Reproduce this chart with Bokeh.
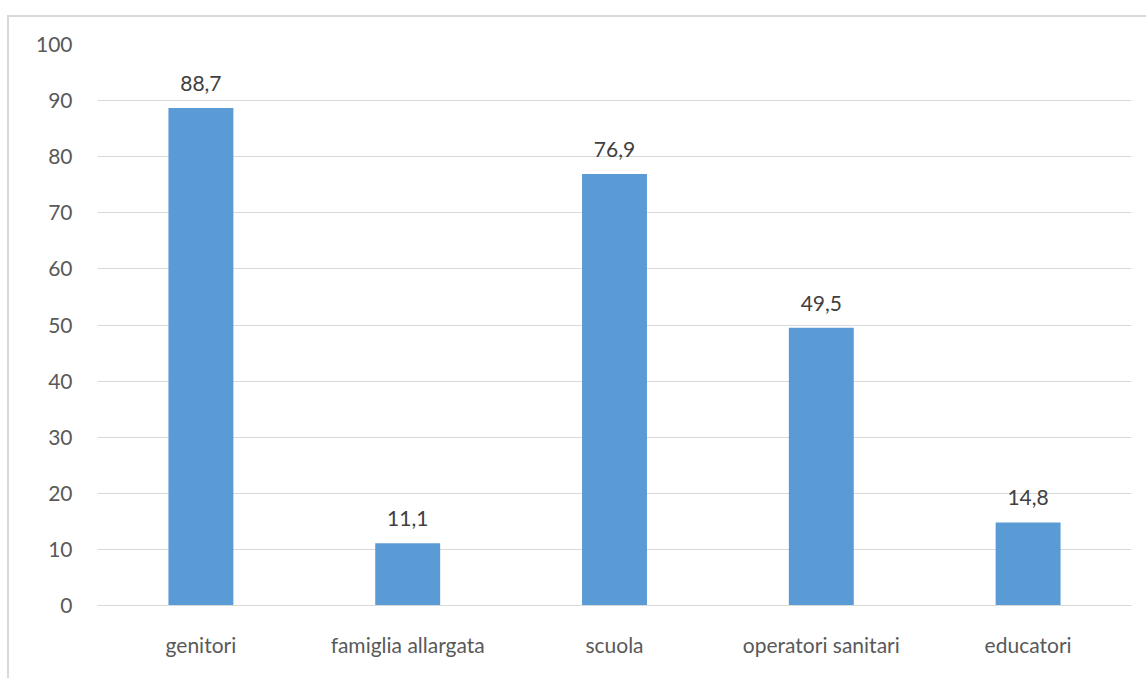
from bokeh.plotting import figure
from bokeh.models import ColumnDataSource, LabelSet, FixedTicker, NumeralTickFormatter
from bokeh.core.properties import value
from bokeh.embed import file_html
from bokeh.resources import INLINE

# Data
categories = ["genitori", "famiglia allargata", "scuola", "operatori sanitari", "educatori"]
values = [88.7, 11.1, 76.9, 49.5, 14.8]
y_ticks = [0, 10, 20, 30, 40, 50, 60, 70, 80, 90, 100]

labels = [f"{v:.1f}".replace(".", ",") for v in values]
source = ColumnDataSource(data=dict(cat=categories, val=values, lab=labels))

FONT = "Lato"
SIZE = "21px"
BAR = "#5b9bd5"
GRID = "#d9d9d9"

p = figure(
    x_range=categories,
    y_range=(0, 100),
    width=1139,
    height=663,
    output_backend="svg",
    toolbar_location=None,
    min_border_left=88,
    min_border_right=17,
    min_border_top=27,
    min_border_bottom=75,
    outline_line_color=None,
    background_fill_color="white",
    border_fill_color="white",
    margin=(15, 0, 0, 7),
    styles={"border-left": "2px solid #d9d9d9", "border-top": "2px solid #d9d9d9"},
)

p.vbar(x="cat", top="val", width=0.314, source=source, color=BAR, line_color=None)

p.add_layout(LabelSet(x="cat", y="val", text="lab", source=source,
                      text_align="center", text_baseline="alphabetic",
                      y_offset=17, text_font=value(FONT), text_font_size=SIZE,
                      text_color="#404040"))

# Y axis: labels only, grid lines behind bars
p.yaxis.ticker = FixedTicker(ticks=y_ticks)
p.yaxis.formatter = NumeralTickFormatter(format="0")
p.yaxis.axis_line_color = None
p.yaxis.major_tick_line_color = None
p.yaxis.minor_tick_line_color = None
p.yaxis.major_label_standoff = 19
p.yaxis.major_label_text_font = FONT
p.yaxis.major_label_text_font_size = SIZE
p.yaxis.major_label_text_color = "#595959"
p.ygrid.grid_line_color = GRID
p.ygrid.grid_line_width = 1
p.xgrid.grid_line_color = None

# X axis: category names under the baseline
p.xaxis.axis_line_color = GRID
p.xaxis.major_tick_line_color = None
p.xaxis.minor_tick_line_color = None
p.xaxis.major_label_standoff = 20
p.xaxis.major_label_text_font = FONT
p.xaxis.major_label_text_font_size = SIZE
p.xaxis.major_label_text_color = "#595959"

open("out.html", "w").write(file_html(p, INLINE))
